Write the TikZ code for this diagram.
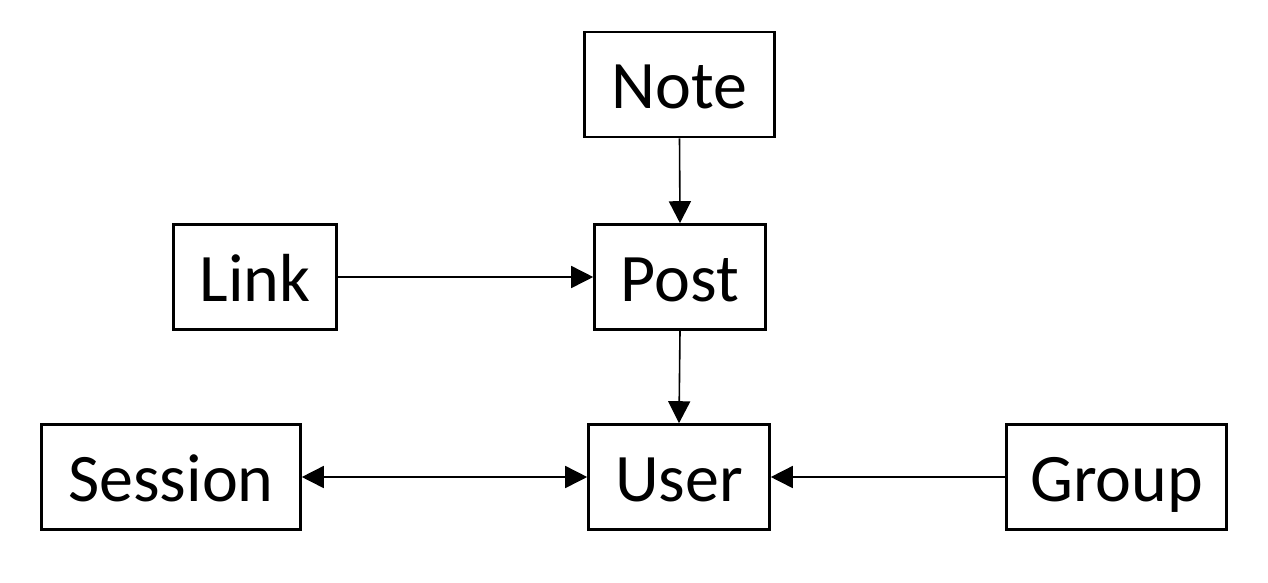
\documentclass[tikz,border=0pt]{standalone}
\usepackage{fontspec}
\setmainfont{Carlito}
\usetikzlibrary{arrows.meta}
\begin{document}
\begin{tikzpicture}[x=1pt,y=-1pt,
  box/.style={draw=black,line width=2.6pt,fill=white,inner sep=0pt,minimum height=105pt,text height=48pt,text depth=0pt,font=\fontsize{68}{80}\selectfont},
  conn/.style={line width=1.6pt,-{Triangle[length=22pt,width=22pt]}},
  biconn/.style={line width=1.6pt,{Triangle[length=22pt,width=22pt]}-{Triangle[length=22pt,width=22pt]}}]
\useasboundingbox[fill=white] (0,0) rectangle (1268,582);
\node[box,minimum width=190pt] (note) at (679.5,84.5) {Note};
\node[box,minimum width=163pt] (link) at (255,277) {Link};
\node[box,minimum width=171pt] (post) at (680,277) {Post};
\node[box,minimum width=259pt] (session) at (171,477) {Session};
\node[box,minimum width=181pt] (user) at (679,477) {User};
\node[box,minimum width=220pt] (group) at (1116.5,477) {Group};
\draw[conn] (note.south) -- (post.north);
\draw[conn] (link.east) -- (post.west);
\draw[conn] (post.south) -- (user.north);
\draw[biconn] (session.east) -- (user.west);
\draw[conn] (group.west) -- (user.east);
\end{tikzpicture}
\end{document}
